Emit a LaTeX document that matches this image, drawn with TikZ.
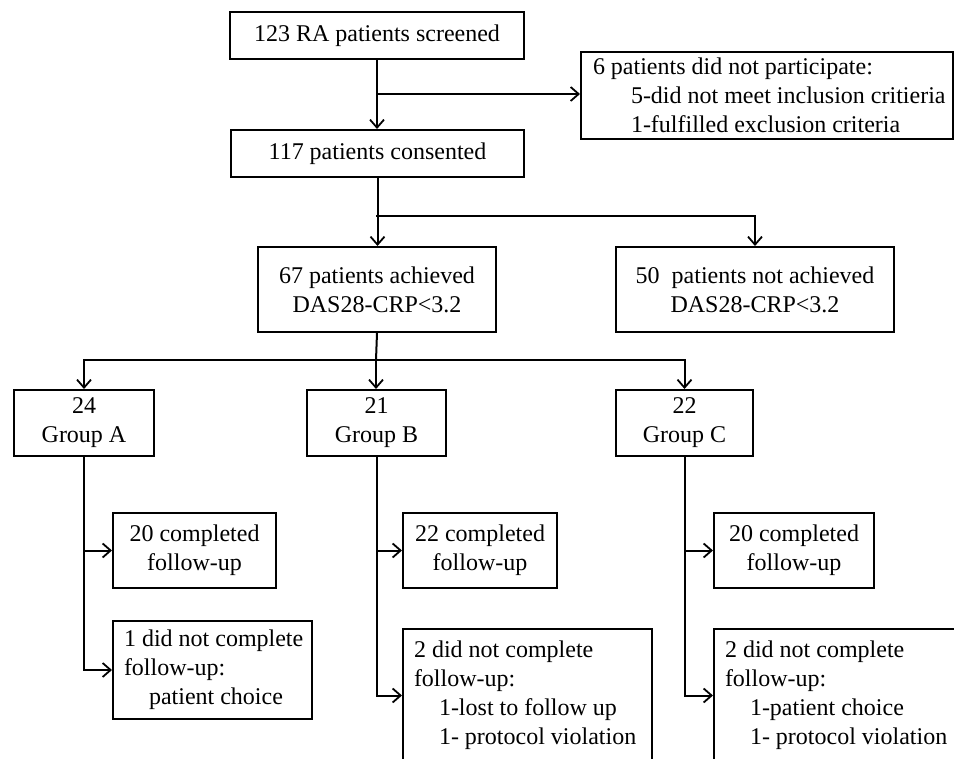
\documentclass[tikz,border=0pt]{standalone}
\usepackage{fontspec}
\setmainfont{Liberation Serif}
\usetikzlibrary{arrows.meta}
\begin{document}
\begin{tikzpicture}[x=1pt,y=-1pt,
  box/.style={draw, line width=2pt, inner sep=0pt, anchor=north west,
    font=\fontsize{24}{29}\selectfont},
  cbox/.style={box, align=center},
  lbox/.style={box, align=flush left},
  plain/.style={line width=2pt},
  conn/.style={line width=2pt, -{Straight Barb[length=8pt,width=14pt,line width=1.8pt]}}]
\useasboundingbox (0,0) rectangle (954,759);
\clip (0,0) rectangle (954,759);

% boxes
\node[cbox, minimum width=294pt, minimum height=47pt] (s1) at (229,11) {123 RA patients screened};
\node[cbox, minimum width=293pt, minimum height=47pt] (s2) at (230,129) {117 patients consented};
\node[lbox, minimum width=372pt, minimum height=87pt, text width=370pt] (side) at (580,51)
  {\hspace*{11pt}6 patients did not participate:\\
   \hspace*{49pt}5-did not meet inclusion critieria\\
   \hspace*{49pt}1-fulfilled exclusion criteria};
\node[cbox, minimum width=238pt, minimum height=85pt] (a67) at (257,246) {67 patients achieved\\DAS28-CRP<3.2};
\node[cbox, minimum width=278pt, minimum height=85pt] (n50) at (615,246) {50\ \ patients not achieved\\DAS28-CRP<3.2};

\node[cbox, minimum width=140pt, minimum height=66pt] (gA) at (13,389) {24\\Group A};
\node[cbox, minimum width=139pt, minimum height=66pt] (gB) at (306,389) {21\\Group B};
\node[cbox, minimum width=137pt, minimum height=66pt] (gC) at (615,389) {22\\Group C};

\node[cbox, minimum width=163pt, minimum height=75pt] (cA) at (112,512) {20 completed\\follow-up};
\node[cbox, minimum width=154pt, minimum height=75pt] (cB) at (402,512) {22 completed\\follow-up};
\node[cbox, minimum width=160pt, minimum height=75pt] (cC) at (713,512) {20 completed\\follow-up};

\node[lbox, minimum width=199pt, minimum height=98pt, text width=195pt] (nA) at (112,620)
  {\hspace*{9pt}1 did not complete\\
   \hspace*{9pt}follow-up:\\
   \hspace*{34pt}patient choice};
\node[lbox, minimum width=249pt, minimum height=133pt, text width=245pt] (nB) at (402,628)
  {\hspace*{9pt}2 did not complete\\
   \hspace*{9pt}follow-up:\\
   \hspace*{34pt}1-lost to follow up\\
   \hspace*{34pt}1- protocol violation};
\node[lbox, minimum width=262pt, minimum height=133pt, text width=258pt] (nC) at (713,628)
  {\hspace*{9pt}2 did not complete\\
   \hspace*{9pt}follow-up:\\
   \hspace*{34pt}1-patient choice\\
   \hspace*{34pt}1- protocol violation};

% junctions
\coordinate (j1) at (376,94);
\coordinate (j2) at (376,216);
\coordinate (j3) at (376,360);

% connectors
\draw[conn] (s1.south) -- (s1.south |- s2.north);
\draw[conn] (j1) -- (j1 -| side.west);
\draw[conn] (s2.south) -- (s2.south |- a67.north);
\draw[conn] (j2) -| (n50.north);
\draw[plain] (a67.south) -- (j3);
\draw[conn] (j3) -| (gA.north);
\draw[conn] (j3) -- (j3 |- gB.north);
\draw[conn] (j3) -| (gC.north);

\draw[conn] (gA.south) |- (nA.west);
\draw[conn] (gA.south |- cA.west) -- (cA.west);
\draw[conn] (gB.south) |- (nB.west);
\draw[conn] (gB.south |- cB.west) -- (cB.west);
\draw[conn] (gC.south) |- (nC.west);
\draw[conn] (gC.south |- cC.west) -- (cC.west);
\end{tikzpicture}
\end{document}
